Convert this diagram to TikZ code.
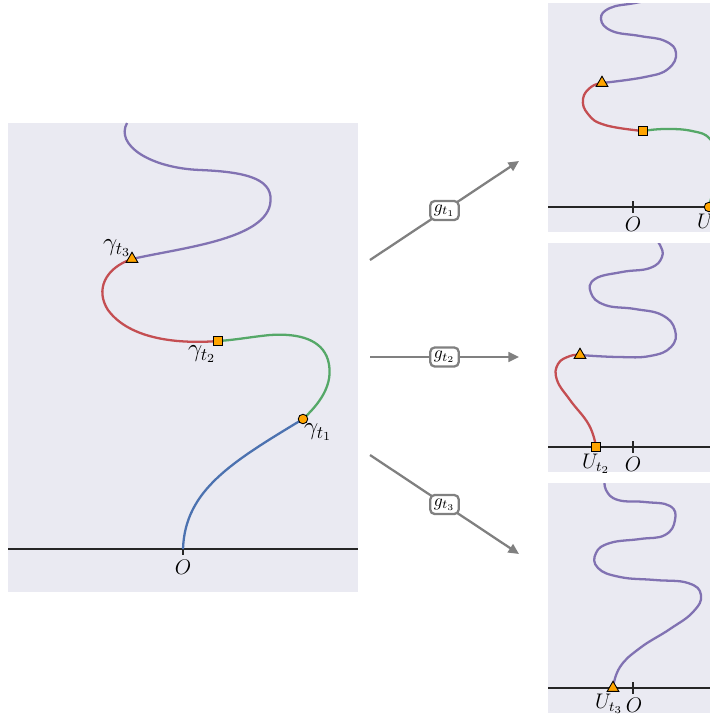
\documentclass[tikz,border=0pt]{standalone}
\usetikzlibrary{positioning}
\usetikzlibrary{arrows.meta}
\usetikzlibrary{shapes.geometric}
\definecolor{sbblue}{RGB}{76,114,176}
\definecolor{sbgreen}{RGB}{85,168,104}
\definecolor{sbred}{RGB}{196,78,82}
\definecolor{sbpurple}{RGB}{129,114,178}
\definecolor{panel}{RGB}{234,234,242}
\definecolor{markfill}{RGB}{255,165,0}

\begin{document}
\begin{tikzpicture}[x=0.02cm, y=-0.02cm,
    curve/.style={line width=1.3pt},
    axisline/.style={line width=0.7pt, black!85},
    circmark/.style={circle, draw=black, fill=markfill, inner sep=0pt, minimum size=0.19cm, line width=0.5pt},
    sqmark/.style={rectangle, draw=black, fill=markfill, inner sep=0pt, minimum size=0.18cm, line width=0.5pt},
    trimark/.style={regular polygon, regular polygon sides=3, draw=black, fill=markfill, inner sep=0pt, minimum size=0.27cm, line width=0.5pt},
    maparrow/.style={line width=1.3pt, gray, -{Triangle[length=6pt,width=5.5pt]}},
    mapbox/.style={draw=gray, fill=white, rounded corners=2.5pt, inner sep=2pt, text=black, font=\normalsize}]
    \useasboundingbox (0,0) rectangle (710,718);

    % main panel
    \fill[panel] (8,123) rectangle (358,592);
    \draw[axisline] (8,549) -- (358,549);
    \draw[axisline] (183,543) -- (183,555);
    \node[font=\large] (o0) at (183,567) {$O$};

    \draw[curve, sbblue] (183,549) .. controls (185,490) and (232,462) .. (303,419);
    \draw[curve, sbgreen] (303,419) .. controls (318,405) and (335,385) .. (328,360)
        .. controls (322,340) and (300,333) .. (270,335)
        .. controls (250,337) and (235,340) .. (218,341);
    \draw[curve, sbred] (218,341) .. controls (180,344) and (130,340) .. (108,310)
        .. controls (95,290) and (105,268) .. (132,259);
    \draw[curve, sbpurple] (132,259) .. controls (180,248) and (262,240) .. (270,205)
        .. controls (275,180) and (250,172) .. (200,170)
        .. controls (150,168) and (115,145) .. (127,123);

    \node[circmark] (m1) at (303,419) {};
    \node[sqmark] (m2) at (218,341) {};
    \node[trimark] (m3) at (132,259) {};
    \node[font=\Large] (lab1) at (318,432) {$\gamma_{t_1}$};
    \node[font=\Large] (lab2) at (202,354) {$\gamma_{t_2}$};
    \node[font=\Large] (lab3) at (117,248) {$\gamma_{t_3}$};

    % maps
    \foreach \i/\ys/\ye in {1/260/161, 2/357/357, 3/455/554} {
        \coordinate (s\i) at (370,\ys);
        \coordinate (e\i) at (519,\ye);
        \draw[maparrow] (s\i) -- node[mapbox] (g\i) {$g_{t_\i}$} (e\i);
    }

    % panel for g_{t_1}
    \begin{scope}
        \clip (548,3) rectangle (710,232);
        \fill[panel] (548,3) rectangle (710,232);
        \draw[axisline] (548,207) -- (710,207);
        \draw[axisline] (633,201) -- (633,213);
        \node[font=\large] (o1) at (633,224) {$O$};
        \draw[curve, sbgreen] plot[smooth, tension=0.75] coordinates {(709,207) (714,185) (718,160) (710,139) (692,131) (665,129) (643,131)};
        \draw[curve, sbred] plot[smooth, tension=0.75] coordinates {(643,131) (605,125) (588,114) (583,99) (591,87) (602,83)};
        \draw[curve, sbpurple] plot[smooth, tension=0.75] coordinates {(602,83) (645,77) (668,69) (676,53) (665,41) (640,36) (612,31) (601,19) (610,8) (635,3) (660,-2)};
        \node[circmark] (p1c) at (709,207) {};
        \node[sqmark] (p1s) at (643,131) {};
        \node[trimark] (p1t) at (602,83) {};
        \node[font=\large] (u1) at (711,224) {$U_{t_1}$};
    \end{scope}

    % panel for g_{t_2}
    \begin{scope}
        \clip (548,243) rectangle (710,472);
        \fill[panel] (548,243) rectangle (710,472);
        \draw[axisline] (548,447) -- (710,447);
        \draw[axisline] (633,441) -- (633,453);
        \node[font=\large] (o2) at (633,464) {$O$};
        \draw[curve, sbred] plot[smooth, tension=0.75] coordinates {(596,447) (589,425) (570,400) (557,380) (558,364) (570,356) (580,355)};
        \draw[curve, sbpurple] plot[smooth, tension=0.75] coordinates {(580,355) (618,357) (650,356) (671,347) (675,330) (662,315) (635,309) (605,305) (591,293) (595,279) (622,272) (650,268) (662,257) (660,245) (654,238)};
        \node[sqmark] (p2s) at (596,447) {};
        \node[trimark] (p2t) at (580,355) {};
        \node[font=\large] (u2) at (596,464) {$U_{t_2}$};
    \end{scope}

    % panel for g_{t_3}
    \begin{scope}
        \clip (548,483) rectangle (710,713);
        \fill[panel] (548,483) rectangle (710,713);
        \draw[axisline] (548,688) -- (710,688);
        \draw[axisline] (633,682) -- (633,694);
        \node[font=\large] (o3) at (634,705) {$O$};
        \draw[curve, sbpurple] plot[smooth, tension=0.75] coordinates {(613,688) (620,667) (640,648) (670,629) (693,612) (701,595) (688,583) (655,580) (620,577) (598,568) (596,553) (610,543) (640,539) (665,535) (675,520) (670,506) (645,502) (618,500) (606,490) (605,478)};
        \node[trimark] (p3t) at (613,688) {};
        \node[font=\large] (u3) at (609,704) {$U_{t_3}$};
    \end{scope}
\end{tikzpicture}
\end{document}
